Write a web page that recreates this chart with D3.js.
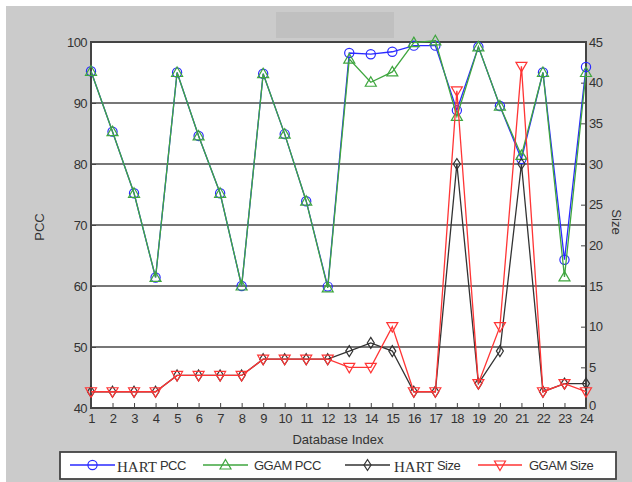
<!DOCTYPE html>
<html><head><meta charset="utf-8">
<script src="https://cdn.jsdelivr.net/npm/d3@7"></script>
<style>body{margin:0;background:#fff}svg{display:block}</style>
</head><body><svg id="c" width="632" height="482"></svg>
<script>
const dbIndex = d3.range(1, 25);
const hartPCC = [95.2,85.3,75.2,61.4,95,84.6,75.2,60,94.8,84.9,73.9,59.9,98.2,98.0,98.4,99.4,99.4,88.8,99.2,89.5,80.8,95,64.3,95.9];
const ggamPCC = [95.2,85.3,75.2,61.4,95,84.6,75.2,60,94.8,84.9,73.9,59.7,97.2,93.4,95.1,99.9,100.2,87.8,99.2,89.5,81.4,95,61.5,95.0];
const hartSize = [2,2,2,2,4,4,4,4,6,6,6,6,7,8,7,2,2,30,3,7,30,2,3,3];
const ggamSize = [2,2,2,2,4,4,4,4,6,6,6,6,5,5,10,2,2,39,3,10,42,2,3,2];
const pccTicks = [40,50,60,70,80,90,100];
const sizeTicks = [0,5,10,15,20,25,30,35,40,45];
const legendLabels = [["HART","PCC"],["GGAM PCC",""],["HART","Size"],["GGAM Size",""]];

const svg = d3.select("#c");
svg.append("rect").attr("x",6).attr("y",6).attr("width",626).attr("height",476).attr("fill","#cbcbcb");
svg.append("rect").attr("x",276).attr("y",12).attr("width",118).attr("height",26).attr("fill","#c0c0c0");

const L=91, R=586, T=42, B=408;
const x = d3.scaleLinear().domain([1,24]).range([L,R]);
const yL = d3.scaleLinear().domain([40,100]).range([B,T]);
const yR = d3.scaleLinear().domain([0,45]).range([B,T]);

svg.append("rect").attr("x",L).attr("y",T).attr("width",R-L).attr("height",B-T).attr("fill","#fff");

// gridlines
svg.append("g").selectAll("line").data(pccTicks.slice(1,-1)).join("line")
  .attr("x1",L).attr("x2",R).attr("y1",d=>yL(d)).attr("y2",d=>yL(d))
  .attr("stroke","#4a4a4a").attr("stroke-width",1.6);

const font = "Liberation Sans, Arial, sans-serif";
const tc = "#333";
// axes
const gx = svg.append("g").attr("transform",`translate(0,${B})`)
  .call(d3.axisBottom(x).tickValues(dbIndex).tickFormat(d3.format("d")).tickSizeInner(-5).tickSizeOuter(0).tickPadding(6));
const gl = svg.append("g").attr("transform",`translate(${L},0)`)
  .call(d3.axisLeft(yL).tickValues(pccTicks).tickSizeInner(-5).tickSizeOuter(0).tickPadding(4));
const gr = svg.append("g").attr("transform",`translate(${R},0)`)
  .call(d3.axisRight(yR).tickValues(sizeTicks).tickSizeInner(-5).tickSizeOuter(0).tickPadding(3));
[gx,gl,gr].forEach(g=>{
  g.select(".domain").remove();
  g.selectAll("line").attr("stroke","#444");
  g.selectAll("text").attr("fill",tc).attr("font-family",font).attr("font-size",13).style("letter-spacing","-0.6px");
});
gx.selectAll("text").attr("dy","0.71em");
gr.selectAll("text").filter(d=>d===0).attr("dy","0.1em");

svg.append("rect").attr("x",L).attr("y",T).attr("width",R-L).attr("height",B-T)
  .attr("fill","none").attr("stroke","#444").attr("stroke-width",2);

svg.append("text").attr("x",338).attr("y",444).attr("text-anchor","middle").attr("font-family",font)
  .attr("font-size",13).attr("fill",tc).text("Database Index");
svg.append("text").attr("transform","translate(44,227) rotate(-90)").attr("text-anchor","middle")
  .attr("font-family",font).attr("font-size",13).attr("fill",tc).text("PCC");
svg.append("text").attr("transform","translate(612,222) rotate(90)").attr("text-anchor","middle")
  .attr("font-family",font).attr("font-size",13).attr("fill",tc).text("Size");

const series = [
  {vals:hartPCC, y:yL, color:"#2a2aff", sym:"circle"},
  {vals:ggamPCC, y:yL, color:"#3fa63f", sym:"tri"},
  {vals:hartSize, y:yR, color:"#333333", sym:"diamond"},
  {vals:ggamSize, y:yR, color:"#ff3535", sym:"tridown"}
];
function marker(g, sym, color){
  if(sym==="circle") g.append("circle").attr("r",4.6).attr("fill","none").attr("stroke",color).attr("stroke-width",1.2);
  else if(sym==="tri") g.append("path").attr("d","M0,-5.5L5.5,4L-5.5,4Z").attr("fill","none").attr("stroke",color).attr("stroke-width",1.2);
  else if(sym==="tridown") g.append("path").attr("d","M0,5.5L5.5,-4L-5.5,-4Z").attr("fill","none").attr("stroke",color).attr("stroke-width",1.2);
  else g.append("path").attr("d","M0,-5.5L3.5,0L0,5.5L-3.5,0Z").attr("fill","none").attr("stroke",color).attr("stroke-width",1.2);
}
series.forEach(s=>{
  const line = d3.line().x((d,i)=>x(dbIndex[i])).y(d=>s.y(d));
  svg.append("path").datum(s.vals).attr("d",line).attr("fill","none").attr("stroke",s.color).attr("stroke-width",1.3);
  s.vals.forEach((v,i)=>{
    const g = svg.append("g").attr("transform",`translate(${x(dbIndex[i])},${s.y(v)})`);
    marker(g,s.sym,s.color);
  });
});

// legend
const lg = svg.append("g");
lg.append("rect").attr("x",60).attr("y",452).attr("width",556).attr("height",27).attr("fill","#fff").attr("stroke","#444").attr("stroke-width",1.8);
const items = [
  {x0:70,x1:115,label:legendLabels[0],tx:117},
  {x0:203,x1:248,label:legendLabels[1],tx:254},
  {x0:345,x1:390,label:legendLabels[2],tx:394},
  {x0:478,x1:522,label:legendLabels[3],tx:529}
];
items.forEach((it,k)=>{
  const s = series[k], cy=465;
  lg.append("line").attr("x1",it.x0).attr("x2",it.x1).attr("y1",cy).attr("y2",cy).attr("stroke",s.color).attr("stroke-width",1.3);
  const g = lg.append("g").attr("transform",`translate(${(it.x0+it.x1)/2},${cy})`);
  marker(g,s.sym,s.color);
  const t = lg.append("text").attr("x",it.tx).attr("y",cy+5).attr("fill",tc).attr("font-size",13);
  if(it.label[1]){
    t.append("tspan").attr("font-family","Liberation Serif, Times New Roman, serif").attr("font-size",15).attr("dy",2).text(it.label[0]);
    t.append("tspan").attr("font-family",font).attr("dx",3).attr("dy",-2).style("letter-spacing","-0.5px").text(it.label[1]);
  } else {
    t.attr("font-family",font).style("letter-spacing","-0.5px").text(it.label[0]);
  }
});
</script></body></html>
